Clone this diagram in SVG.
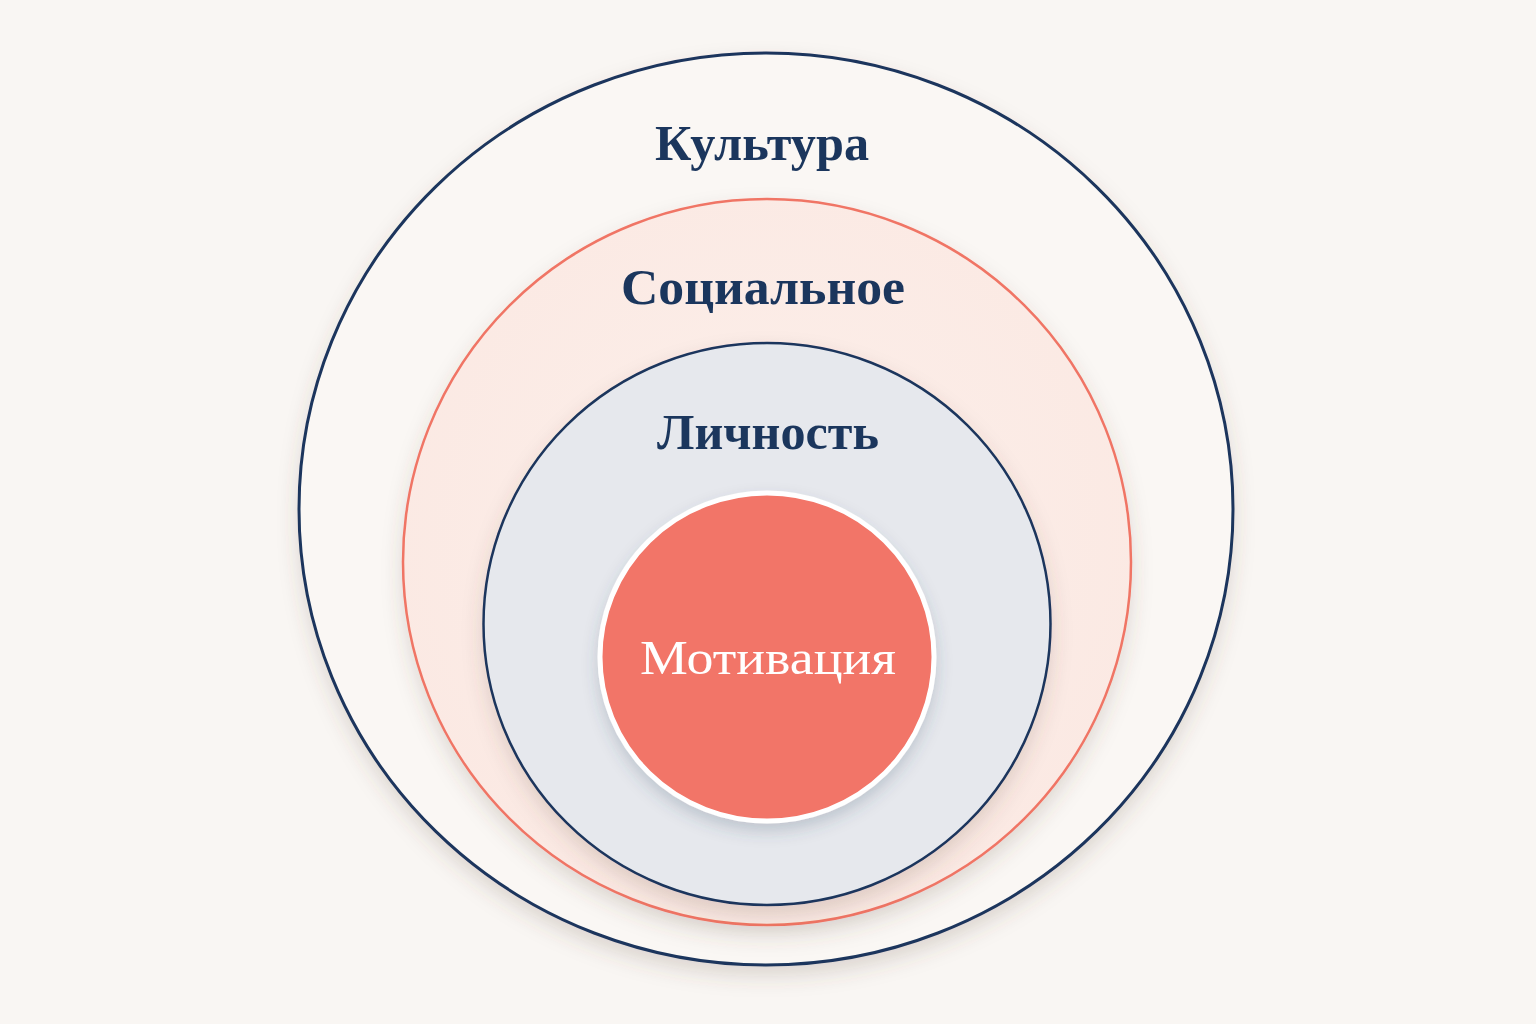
<svg xmlns="http://www.w3.org/2000/svg" width="1536" height="1024" viewBox="0 0 1536 1024">
  <defs>
    <filter id="shadow" x="-20%" y="-20%" width="140%" height="145%">
      <feDropShadow dx="0" dy="10" stdDeviation="10" flood-color="#5a4a40" flood-opacity="0.18"/>
    </filter>
    <filter id="shadowInner" x="-20%" y="-20%" width="140%" height="145%">
      <feDropShadow dx="0" dy="8" stdDeviation="8" flood-color="#3a4a60" flood-opacity="0.22"/>
    </filter>
    <radialGradient id="socialFill" cx="50%" cy="45%" r="55%">
      <stop offset="0%" stop-color="#fcefea"/>
      <stop offset="100%" stop-color="#fbe9e3"/>
    </radialGradient>
  </defs>
  <style>
    .label { font-family: "Liberation Serif", "DejaVu Serif", serif; font-weight: bold; fill: #1b365d; text-anchor: middle; }
    .inner { font-family: "Liberation Serif", "DejaVu Serif", serif; fill: #ffffff; text-anchor: middle; }
  </style>
  <rect width="1536" height="1024" fill="#f9f6f3"/>
  <g id="culture">
    <ellipse cx="766" cy="509" rx="467" ry="456" fill="#faf7f4" stroke="#1b365d" stroke-width="3" filter="url(#shadow)"/>
    <text class="label" x="762" y="160" font-size="50" textLength="214" lengthAdjust="spacingAndGlyphs">Культура</text>
  </g>
  <g id="social">
    <ellipse cx="767" cy="562" rx="364" ry="363" fill="url(#socialFill)" stroke="#f07565" stroke-width="2.5" filter="url(#shadow)"/>
    <text class="label" x="763" y="304" font-size="50" textLength="284" lengthAdjust="spacingAndGlyphs">Социальное</text>
  </g>
  <g id="personality">
    <ellipse cx="767" cy="624" rx="283.5" ry="281" fill="#e6e8ed" stroke="#1b365d" stroke-width="2.5" filter="url(#shadow)"/>
    <text class="label" x="768" y="449" font-size="50" textLength="222" lengthAdjust="spacingAndGlyphs">Личность</text>
  </g>
  <g id="motivation">
    <ellipse cx="767" cy="657" rx="167" ry="164" fill="#f27467" stroke="#ffffff" stroke-width="5" filter="url(#shadowInner)"/>
    <text class="inner" x="768" y="674" font-size="48" textLength="256" lengthAdjust="spacingAndGlyphs">Мотивация</text>
  </g>
  <g id="connectors"/>
</svg>
